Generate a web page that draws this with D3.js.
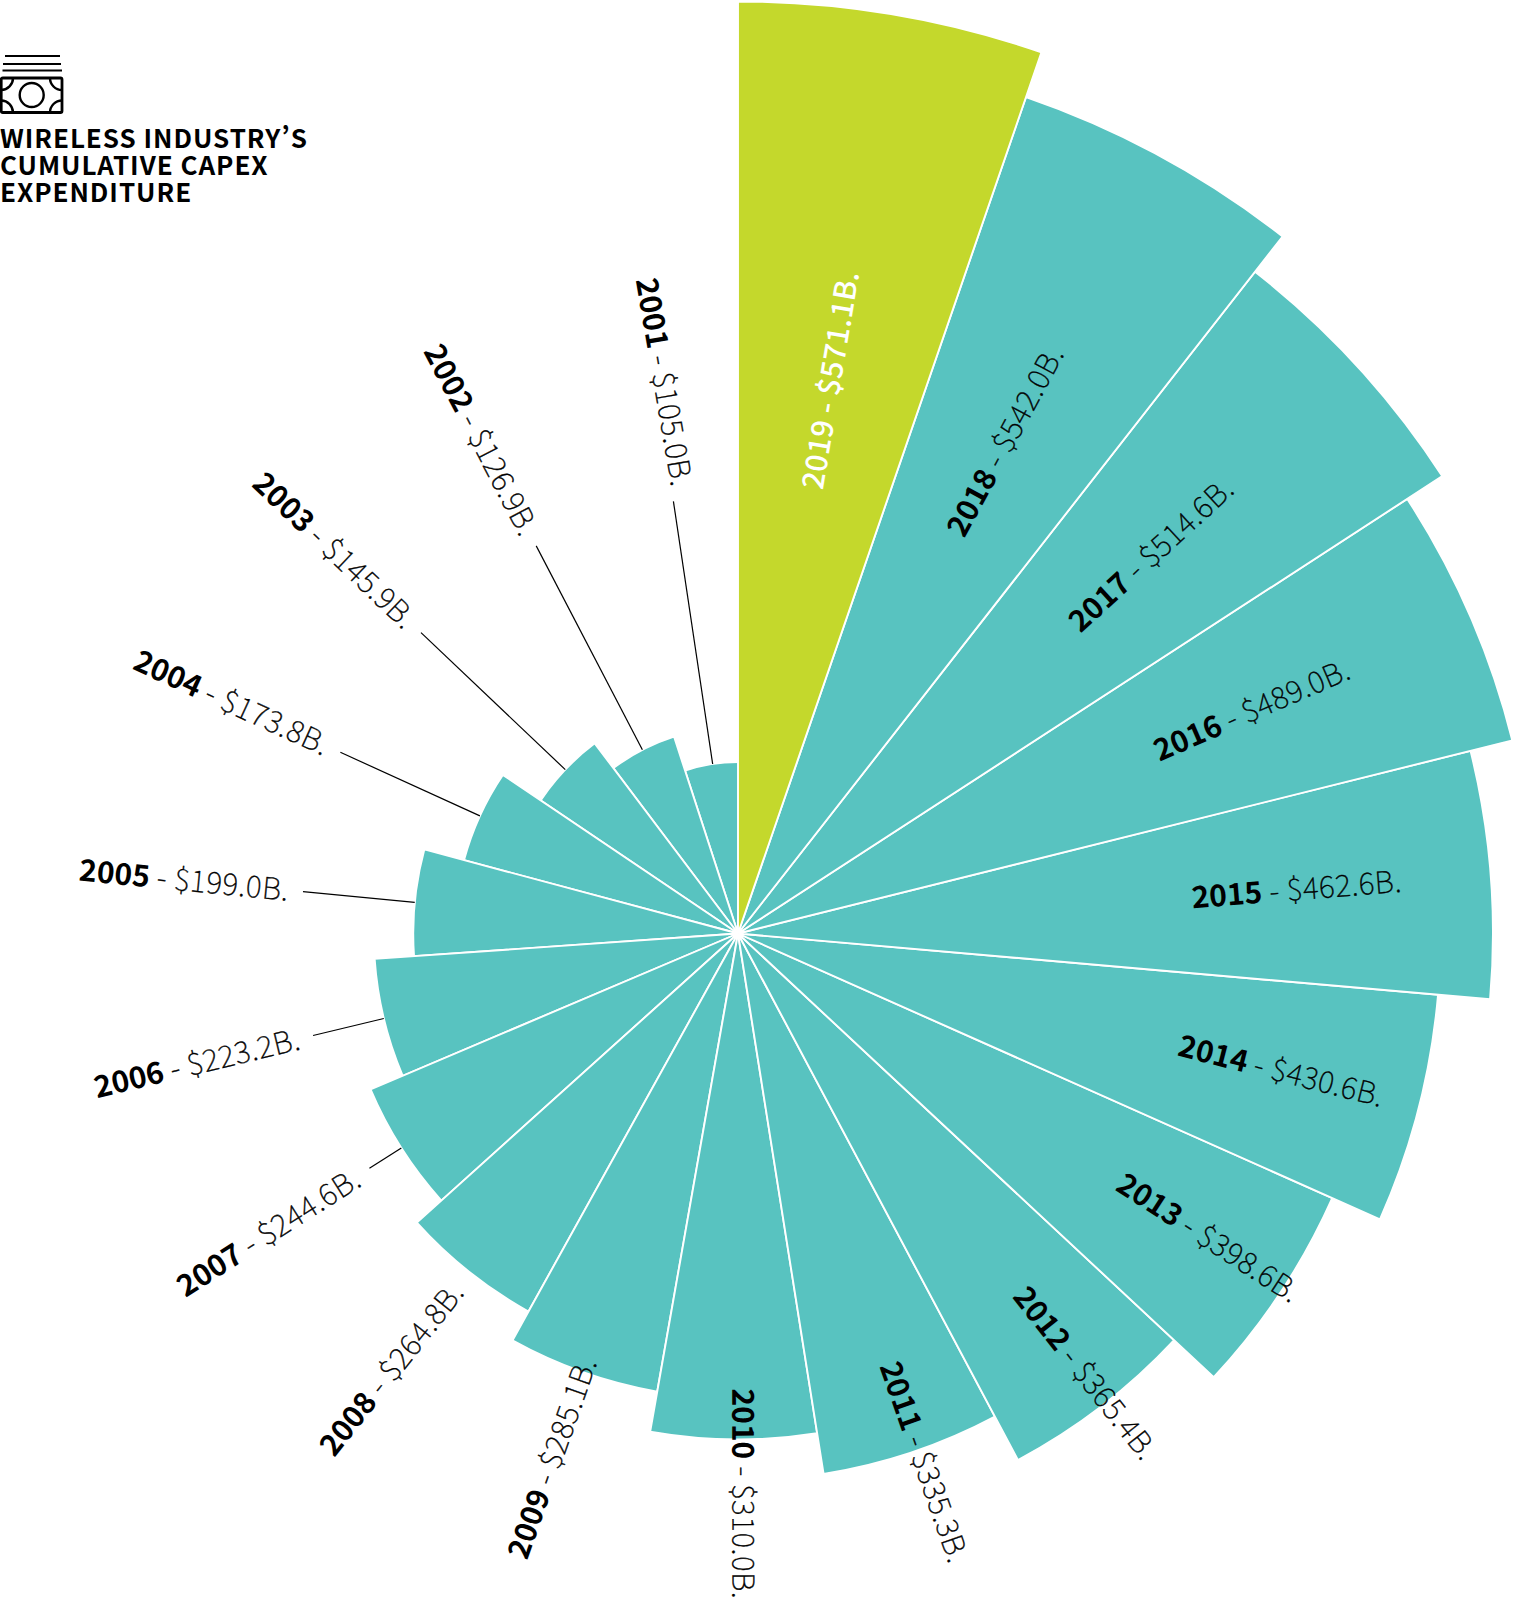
<!DOCTYPE html>
<html>
<head>
<meta charset="utf-8">
<style>
  body { margin: 0; background: #fff; }
  svg { display: block; }
  text { font-family: "Noto Sans CJK SC", "Noto Sans", sans-serif; font-feature-settings: "pwid"; }
</style>
</head>
<body>
<svg id="chart" width="1513" height="1600"></svg>
<script src="https://cdn.jsdelivr.net/npm/d3@7"></script>
<script>
// capex by year, clockwise from 12 o'clock
const years = [2019, 2018, 2017, 2016, 2015, 2014, 2013, 2012, 2011, 2010, 2009, 2008, 2007, 2006, 2005, 2004, 2003, 2002, 2001];
const capex = [571.1, 542.0, 514.6, 489.0, 462.6, 430.6, 398.6, 365.4, 335.3, 310.0, 285.1, 264.8, 244.6, 223.2, 199.0, 173.8, 145.9, 126.9, 105.0];
const titleLines = ["WIRELESS INDUSTRY’S", "CUMULATIVE CAPEX", "EXPENDITURE"];
// these slices are too small to hold a label, so they get a leader line
const leaderYears = [2007, 2006, 2005, 2004, 2003, 2002, 2001];

const TEAL = "#58c3c0";
const LIME = "#c4d82c";
const cx = 738, cy = 933.5;
const labelStart = 455, labelEnd = 451, leaderStart = 437;
// hand placed labels don't sit exactly on the slice middle (degrees)
const labelTurn = {2014: -0.3, 2013: -0.6, 2012: -0.8, 2011: -0.9, 2010: -1.1, 2001: 1.35};
const labelTilt = {2010: 0.5, 2001: -2.65};

const svg = d3.select("#chart");
const rad = d => d * Math.PI / 180;

// every slice is 19 degrees wide, the last one runs under 2019
let angle = d3.scaleBand().domain(years).range([0, rad(19 * years.length)]);
let radius = d3.scaleLinear().domain([0, 571.1]).range([0, 932]);

let arc = d3.arc()
    .innerRadius(0)
    .outerRadius(d => radius(d.value))
    .startAngle(d => angle(d.year))
    .endAngle(d => angle(d.year) + angle.bandwidth());

let rows = years.map((y, i) => ({year: y, value: capex[i]}));
let plot = svg.append("g").attr("transform", "translate(" + cx + "," + cy + ")");

// reversed so that 2019 ends up on top of the tail of 2001
plot.append("g").selectAll("path")
    .data(rows.slice().reverse())
    .enter().append("path")
    .attr("d", arc)
    .attr("fill", d => d.year == 2019 ? LIME : TEAL)
    .attr("stroke", "#fff")
    .attr("stroke-width", 1.9);

let midDeg = d => (angle(d.year) + angle.bandwidth() / 2) * 180 / Math.PI;
// labels from 2010 up read outwards, the older ones read towards the centre
let readsOut = d => d.year >= 2010;

plot.append("g").selectAll("line")
    .data(rows.filter(d => leaderYears.includes(d.year)))
    .enter().append("line")
    .attr("transform", d => "rotate(" + midDeg(d) + ")")
    .attr("y1", -leaderStart)
    .attr("y2", d => -radius(d.value))
    .attr("stroke", "#000")
    .attr("stroke-width", 1.2);

let labels = plot.append("g").selectAll("text")
    .data(rows)
    .enter().append("text")
    .attr("transform", d => {
        let a = midDeg(d) + (labelTurn[d.year] || 0);
        let tilt = " rotate(" + (labelTilt[d.year] || 0) + ")";
        return readsOut(d)
            ? "rotate(" + (a - 90) + ") translate(" + (d.year == 2019 ? labelStart - 4 : labelStart) + ",0)" + tilt
            : "rotate(" + (a + 90) + ") translate(" + (-labelEnd) + ",0)" + tilt;
    })
    .attr("text-anchor", d => readsOut(d) ? "start" : "end")
    .attr("dy", "0.35em")
    .attr("font-size", 30)
    .attr("fill", d => d.year == 2019 ? "#fff" : "#000");

labels.append("tspan")
    .attr("font-weight", d => d.year == 2019 ? 500 : 700)
    .attr("letter-spacing", d => d.year == 2019 ? 0.3 : 0)
    .text(d => d.year);
// the thin cut renders pale, a hairline stroke brings it back to black
labels.append("tspan")
    .attr("font-weight", d => d.year == 2019 ? 500 : 100)
    .attr("letter-spacing", d => d.year == 2019 ? 0.3 : 0.55)
    .attr("stroke", d => d.year == 2019 ? "none" : "#000")
    .attr("stroke-width", 0.4)
    .text(d => " - $" + d.value.toFixed(1) + "B.");

// title block
svg.append("g").selectAll("text")
    .data(titleLines)
    .enter().append("text")
    .attr("x", 0)
    .attr("y", (d, i) => 147.5 + i * 27)
    .attr("font-size", 26)
    .attr("font-weight", 700)
    .attr("letter-spacing", 0.95)
    .text(d => d);

// banknote icon
let icon = svg.append("g").attr("fill", "none").attr("stroke", "#000").attr("stroke-width", 2.4);
[[5, 60, 56], [3, 61, 64], [2.5, 62, 70.5]].forEach(l => {
    icon.append("line").attr("x1", l[0]).attr("x2", l[1]).attr("y1", l[2]).attr("y2", l[2]).attr("stroke-width", 2.2);
});
icon.append("rect").attr("x", 1.2).attr("y", 78).attr("width", 60.8).attr("height", 34.5).attr("rx", 1.5).attr("stroke-width", 2.8);
icon.append("circle").attr("cx", 31.7).attr("cy", 95).attr("r", 12);
icon.append("path").attr("d", "M1.2 90 A12 12 0 0 0 13 78 M50 78 A12 12 0 0 0 62 90 M1.2 100.5 A12 12 0 0 1 13 112.5 M50 112.5 A12 12 0 0 1 62 100.5");
</script>
</body>
</html>
